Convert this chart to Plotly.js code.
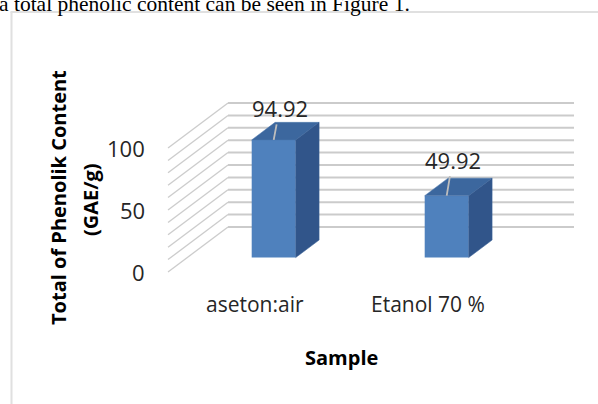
<!DOCTYPE html>
<html>
<head>
<meta charset="utf-8">
<script src="https://cdn.plot.ly/plotly-3.0.1.min.js"></script>
<style>html,body{margin:0;padding:0;background:#fff;}#chart{width:598px;height:404px;}</style>
</head>
<body>
<div id="chart"></div>
<script>
// ---- data ----
const categories = ['aseton:air', 'Etanol 70 %'];
const values = [94.92, 49.92];
const valueLabels = ['94.92', '49.92'];
const yTickVals = [0, 50, 100];
const yTickText = ['0', '50', '100'];
const gridVals = [0, 10, 20, 30, 40, 50, 60, 70, 80, 90, 100];
const xTitle = 'Sample';
const yTitleLines = ['Total of Phenolik Content', '(GAE/g)'];
const docText = 'a total phenolic content can be seen in Figure 1.';

// ---- geometry / style (pixel mapping of the full canvas) ----
const W = 598, H = 404;
const X0PX = 254.5, XPX = 173;   // category 0 front position, px per category
const Y0PX = 272, YPX = 1.24;    // value 0 front floor, px per unit
const DX = 60 / XPX;             // full depth shift in x units
const DY = 45 / YPX;             // full depth shift in y units
const BW = 44 / XPX;             // bar width
const D0 = 0.32, D1 = 0.71;      // bar depth span
const XL = -0.5, XR = 1.5;       // floor extent
const font = 'Open Sans, Lato, sans-serif';
const txt = '#262626';

const shapes = [];
// back wall gridlines and side wall lines
gridVals.forEach(v => {
  shapes.push({type: 'line', xref: 'x', yref: 'y', layer: 'below',
    x0: XL + DX, x1: XR + DX, y0: v + DY, y1: v + DY,
    line: {color: '#cbcbcb', width: 2}});
  shapes.push({type: 'line', xref: 'x', yref: 'y', layer: 'below',
    x0: XL, x1: XL + DX, y0: v, y1: v + DY,
    line: {color: '#cccccc', width: 1.3}});
});
// document frame
shapes.push({type: 'line', xref: 'paper', yref: 'paper', x0: 11.5 / W, x1: 11.5 / W, y0: 0, y1: 1 - 12 / H,
  line: {color: '#e0e0e0', width: 2}});
shapes.push({type: 'line', xref: 'paper', yref: 'paper', x0: 10.5 / W, x1: 1, y0: 1 - 12 / H, y1: 1 - 12 / H,
  line: {color: '#e0e0e0', width: 2}});

const xs = categories.map((c, i) => i);
const traces = [];
// front faces
traces.push({type: 'bar', x: xs.map(i => i + D0 * DX), y: values, base: D0 * DY, width: BW,
  marker: {color: '#4F81BD', line: {width: 0}}, hoverinfo: 'skip', showlegend: false});
// top & side faces
values.forEach((v, i) => {
  const xl = i - BW / 2, xr = i + BW / 2;
  traces.push({type: 'scatter', mode: 'lines', fill: 'toself', fillcolor: '#3C679E',
    line: {width: 0.5, color: '#4a76ad'}, hoverinfo: 'skip', showlegend: false,
    x: [xl + D0 * DX, xr + D0 * DX, xr + D1 * DX, xl + D1 * DX, xl + D0 * DX],
    y: [v + D0 * DY, v + D0 * DY, v + D1 * DY, v + D1 * DY, v + D0 * DY]});
  traces.push({type: 'scatter', mode: 'lines', fill: 'toself', fillcolor: '#31558A',
    line: {width: 0.5, color: '#3b6299'}, hoverinfo: 'skip', showlegend: false,
    x: [xr + D0 * DX, xr + D0 * DX, xr + D1 * DX, xr + D1 * DX, xr + D0 * DX],
    y: [D0 * DY, v + D0 * DY, v + D1 * DY, D1 * DY, D0 * DY]});
});

const annotations = [];
yTickVals.forEach((t, k) => annotations.push({x: XL, y: t, xref: 'x', yref: 'y', text: yTickText[k],
  showarrow: false, xanchor: 'right', yanchor: 'middle', xshift: -21,
  font: {family: font, size: 22, color: txt}}));
categories.forEach((c, i) => annotations.push({x: i, y: 0, xref: 'x', yref: 'y', text: c,
  showarrow: false, xanchor: 'center', yanchor: 'middle', yshift: -32,
  font: {family: font, size: 21, color: txt}}));
values.forEach((v, i) => annotations.push({x: i + D0 * DX, y: v + D0 * DY, xref: 'x', yref: 'y',
  text: valueLabels[i], showarrow: true, arrowhead: 0, arrowwidth: 1.8, arrowcolor: '#bdbdbd',
  ax: 6, ay: i === 0 ? -32 : -36, standoff: 0,
  font: {family: font, size: 22, color: txt}}));
annotations.push({x: (xs[0] + xs[xs.length - 1]) / 2, y: 0, xref: 'x', yref: 'y', text: '<b>' + xTitle + '</b>',
  showarrow: false, xanchor: 'center', yanchor: 'middle', yshift: -85,
  font: {family: font, size: 20, color: '#000'}});
annotations.push({x: 58 / W, y: 1 - 198 / H, xref: 'paper', yref: 'paper', text: '<b>' + yTitleLines[0] + '</b>',
  textangle: -90, showarrow: false, xanchor: 'center', yanchor: 'middle',
  font: {family: font, size: 20, color: '#000'}});
annotations.push({x: 90 / W, y: 1 - 200 / H, xref: 'paper', yref: 'paper', text: '<b>' + yTitleLines[1] + '</b>',
  textangle: -90, showarrow: false, xanchor: 'center', yanchor: 'middle',
  font: {family: font, size: 20, color: '#000'}});
annotations.push({x: -3 / W, y: 1 - 4 / H, xref: 'paper', yref: 'paper', text: docText,
  showarrow: false, xanchor: 'left', yanchor: 'middle',
  font: {family: 'Liberation Serif, Times New Roman, serif', size: 21.5, color: '#000'}});

const layout = {
  width: W, height: H, margin: {l: 0, r: 0, t: 0, b: 0},
  paper_bgcolor: '#fff', plot_bgcolor: '#fff', showlegend: false,
  xaxis: {range: [-X0PX / XPX, (W - X0PX) / XPX], visible: false, fixedrange: true},
  yaxis: {range: [-(H - Y0PX) / YPX, Y0PX / YPX], visible: false, fixedrange: true},
  shapes: shapes, annotations: annotations
};
Plotly.newPlot('chart', traces, layout, {displayModeBar: false, staticPlot: true});
</script>
</body>
</html>
